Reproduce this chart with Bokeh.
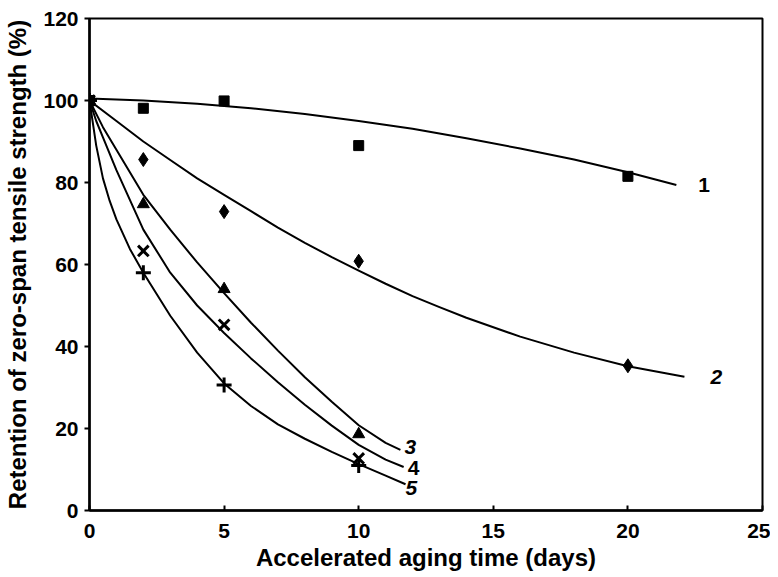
from bokeh.plotting import figure
from bokeh.models import Range1d, FixedTicker, ColumnDataSource
from bokeh.core.properties import value
from bokeh.embed import file_html
from bokeh.resources import INLINE

# ---- measured points ----
days_long = [0, 2, 5, 10, 20]
s1_vals = [100, 98.1, 99.9, 89.0, 81.5]
s2_vals = [100, 85.6, 72.9, 60.8, 35.3]
days_short = [0, 2, 5, 10]
s3_vals = [100, 74.7, 54.0, 18.6]
s4_vals = [100, 63.3, 45.3, 12.7]
s5_vals = [100, 58.0, 30.6, 11.0]

# ---- fitted curves ----
c1_days = [0, 2, 4, 6, 8, 10, 12, 14, 16, 18, 20, 21.8]
c1_vals = [100.5, 100.0, 99.2, 98.1, 96.7, 95.0, 93.1, 90.8, 88.3, 85.6, 82.5, 79.4]
c2_days = [0, 1, 2, 3, 4, 5, 6, 7, 8, 9, 10, 11, 12, 13, 14, 16, 18, 20, 22.1]
c2_vals = [100, 95, 90, 85.5, 81, 77, 73, 69, 65.3, 61.8, 58.5, 55.3, 52.3, 49.6, 47.0, 42.4, 38.5, 35.2, 32.6]
c3_days = [0, 0.5, 1, 2, 3, 4, 5, 6, 7, 8, 9, 10, 11, 11.55]
c3_vals = [100, 93.5, 88, 77, 68.5, 60.5, 53, 45.8, 39, 32.5, 26.5, 20.8, 16.5, 14.8]
c4_days = [0, 0.25, 0.5, 1, 2, 3, 4, 5, 6, 7, 8, 9, 10, 11, 11.67]
c4_vals = [100, 95, 91, 83, 68.5, 58, 50, 43.3, 37.1, 31.3, 25.8, 20.7, 16, 12.4, 10.6]
c5_days = [0, 0.25, 0.5, 0.75, 1, 1.5, 2, 3, 4, 5, 6, 7, 8, 9, 10, 11, 11.74]
c5_vals = [100, 89, 81, 75.5, 71, 63.8, 58, 47.5, 38.5, 31, 25.5, 21, 17.5, 14.3, 11.3, 8.5, 6.4]

curve_labels = ["1", "2", "3", "4", "5"]
x_ticks = [0, 5, 10, 15, 20, 25]
y_ticks = [0, 20, 40, 60, 80, 100, 120]

FONT = "Liberation Sans"

p = figure(width=770, height=577, output_backend="svg", toolbar_location=None,
           x_range=Range1d(0, 25), y_range=Range1d(0, 120),
           min_border_left=89, min_border_right=8, min_border_top=18, min_border_bottom=67)

p.xgrid.visible = False
p.ygrid.visible = False
p.outline_line_color = "black"
p.outline_line_width = 2
p.background_fill_color = "white"
p.border_fill_color = "white"

p.xaxis.ticker = FixedTicker(ticks=x_ticks)
p.yaxis.ticker = FixedTicker(ticks=y_ticks)
for ax in (p.xaxis[0], p.yaxis[0]):
    ax.axis_line_width = 2.5
    ax.axis_line_color = "black"
    ax.major_tick_line_width = 2
    ax.major_tick_line_color = "black"
    ax.minor_tick_line_color = None
    ax.major_label_text_font = FONT
    ax.major_label_text_font_style = "bold"
    ax.major_label_text_font_size = "21px"
    ax.major_label_text_color = "black"
    ax.axis_label_text_font = FONT
    ax.axis_label_text_font_style = "bold"
    ax.axis_label_text_font_size = "24px"
    ax.axis_label_text_color = "black"

p.xaxis.major_tick_in = 5
p.xaxis.major_tick_out = 0
p.xaxis.major_label_standoff = 13
p.xaxis.axis_label = "Accelerated aging time (days)"
p.xaxis.axis_label_standoff = 3

p.yaxis.major_tick_in = 0
p.yaxis.major_tick_out = 5
p.yaxis.major_label_standoff = 6
p.yaxis.axis_label = "Retention of zero-span tensile strength (%)"
p.yaxis.axis_label_standoff = 9

# curves
curves = [(c1_days, c1_vals), (c2_days, c2_vals), (c3_days, c3_vals),
          (c4_days, c4_vals), (c5_days, c5_vals)]
for cx, cy in curves:
    p.line(cx, cy, line_color="black", line_width=2, line_join="round")

# markers
p.scatter(days_long, s1_vals, marker="square", size=10, fill_color="black", line_color="black")
p.scatter(days_long, s2_vals, marker="diamond", size=14, fill_color="black", line_color="black")
p.scatter(days_short, s3_vals, marker="triangle", size=12, fill_color="black", line_color="black")
p.scatter(days_short, s4_vals, marker="x", size=15, line_color="black", line_width=3)
p.scatter(days_short, s5_vals, marker="cross", size=15, line_color="black", line_width=3)

# curve labels at curve ends
ends_x = [c[0][-1] for c in curves]
ends_y = [c[1][-1] for c in curves]
styles = ["bold", "bold italic", "bold italic", "bold", "bold italic"]
xoff = [22, 26, 4, 4, 0]
yoff = [0, 0, -3, 1, 4]
src = ColumnDataSource(dict(x=ends_x, y=ends_y, t=curve_labels, st=styles, xo=xoff, yo=yoff))
p.text(x="x", y="y", text="t", source=src, x_offset="xo", y_offset="yo",
       text_font=value(FONT), text_font_style="st", text_font_size="21px",
       text_baseline="middle", text_align="left", text_color="black")

open("out.html", "w").write(file_html(p, INLINE))
